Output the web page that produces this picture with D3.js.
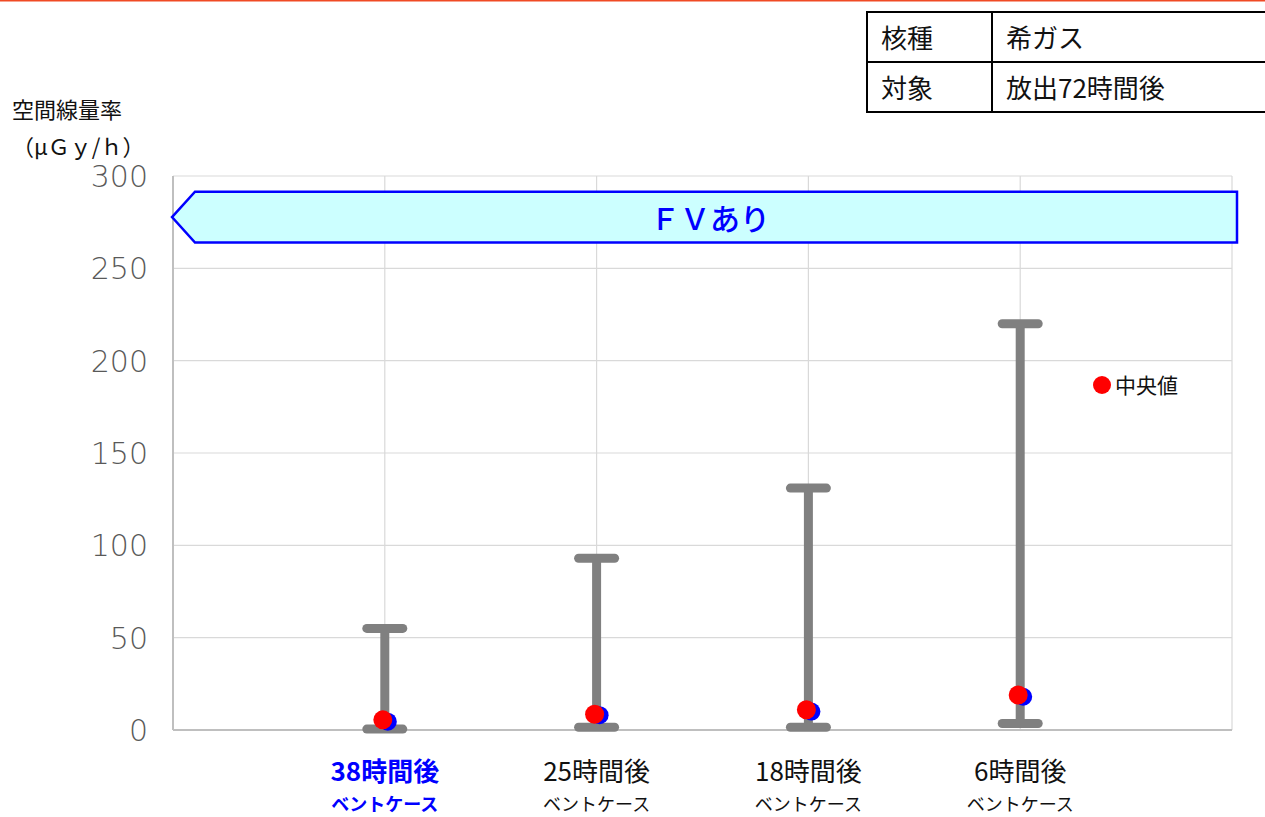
<!DOCTYPE html>
<html>
<head>
<meta charset="utf-8">
<script src="https://cdn.jsdelivr.net/npm/d3@7"></script>
<style>
  body { margin: 0; background: #fff; }
  svg { display: block; font-family: "Noto Sans CJK JP", "DejaVu Sans", sans-serif; }
</style>
</head>
<body>
<div id="chart"></div>
<script>
// categories (x positions 1..4 on a 0..5 axis)
const categories = ["38時間後", "25時間後", "18時間後", "6時間後"];
const subLabels = ["ベントケース", "ベントケース", "ベントケース", "ベントケース"];
const highlight = [true, false, false, false];
// range values (μGy/h)
const maxValues = [55, 93, 131, 220];
const minValues = [0.5, 1.5, 1.5, 3.5];
const medianValues = [5.5, 8.5, 11, 19];
const meanValues = [4.5, 8, 10, 18];
const yTicks = [0, 50, 100, 150, 200, 250, 300];
const tableRows = [["核種", "希ガス"], ["対象", "放出72時間後"]];

const W = 1265, H = 817;
const svg = d3.select("#chart").append("svg").attr("width", W).attr("height", H);

const m = { left: 173, right: 1232, top: 176, bottom: 730 };
const x = d3.scaleLinear().domain([0, 5]).range([m.left, m.right]);
const y = d3.scaleLinear().domain([0, 300]).range([m.bottom, m.top]);

// top rule
svg.append("line").attr("x1", 0).attr("x2", W).attr("y1", 0.5).attr("y2", 0.5)
  .attr("stroke", "#f04a24").attr("stroke-width", 2);

// grid
svg.append("g").selectAll("line").data(yTicks.slice(1)).join("line")
  .attr("x1", m.left).attr("x2", m.right)
  .attr("y1", d => y(d)).attr("y2", d => y(d))
  .attr("stroke", "#d9d9d9").attr("stroke-width", 1.2);
svg.append("g").selectAll("line").data(d3.range(1, 6)).join("line")
  .attr("x1", d => x(d)).attr("x2", d => x(d))
  .attr("y1", m.top).attr("y2", m.bottom)
  .attr("stroke", "#d9d9d9").attr("stroke-width", 1.2);
svg.append("line").attr("x1", m.left).attr("x2", m.left)
  .attr("y1", m.top).attr("y2", m.bottom).attr("stroke", "#bfbfbf").attr("stroke-width", 2);
svg.append("line").attr("x1", m.left).attr("x2", m.right)
  .attr("y1", m.bottom).attr("y2", m.bottom).attr("stroke", "#bfbfbf").attr("stroke-width", 2);

// y tick labels
svg.append("g").selectAll("text").data(yTicks).join("text")
  .attr("x", 148).attr("y", d => y(d) + 11)
  .attr("text-anchor", "end").attr("fill", "#595959")
  .style("font-family", "'DejaVu Sans', sans-serif")
  .style("font-size", "30px").style("font-weight", 200)
  .text(d => d);

// axis title
svg.append("text").attr("x", 12).attr("y", 118).style("font-size", "22px").attr("fill", "#111").text("空間線量率");
svg.append("text").attr("x", 12).attr("y", 155).style("font-size", "22px").attr("fill", "#111").text("（μＧｙ/ｈ）");

// FV banner
const bTop = y(291.5), bBot = y(264);
const banner = [[x(0) - 1, (bTop + bBot) / 2], [x(0) + 22, bTop], [x(5) + 5, bTop], [x(5) + 5, bBot], [x(0) + 22, bBot]];
svg.append("path").attr("d", d3.line()(banner) + "Z")
  .attr("fill", "#ccffff").attr("stroke", "#0000ff").attr("stroke-width", 2.5);
svg.append("text").attr("x", 710).attr("y", 230).attr("text-anchor", "middle")
  .attr("fill", "#0000ff").style("font-size", "30px").style("font-weight", 500).text("ＦＶあり");

// error bars
const data = categories.map((c, i) => ({
  pos: i + 1, max: maxValues[i], min: minValues[i], med: medianValues[i], mean: meanValues[i]
}));
const bars = svg.append("g");
bars.selectAll(".stem").data(data).join("line")
  .attr("x1", d => x(d.pos)).attr("x2", d => x(d.pos))
  .attr("y1", d => y(d.max)).attr("y2", d => y(d.min))
  .attr("stroke", "#808080").attr("stroke-width", 9);
bars.selectAll(".capTop").data(data).join("line")
  .attr("x1", d => x(d.pos) - 18).attr("x2", d => x(d.pos) + 18)
  .attr("y1", d => y(d.max)).attr("y2", d => y(d.max))
  .attr("stroke", "#808080").attr("stroke-width", 9).attr("stroke-linecap", "round");
bars.selectAll(".capBot").data(data).join("line")
  .attr("x1", d => x(d.pos) - 18).attr("x2", d => x(d.pos) + 18)
  .attr("y1", d => y(d.min)).attr("y2", d => y(d.min))
  .attr("stroke", "#808080").attr("stroke-width", 9).attr("stroke-linecap", "round");

// points
svg.append("g").selectAll("circle").data(data).join("circle")
  .attr("cx", d => x(d.pos) + 3).attr("cy", d => y(d.mean))
  .attr("r", 9).attr("fill", "#0000ff");
svg.append("g").selectAll("circle").data(data).join("circle")
  .attr("cx", d => x(d.pos) - 2).attr("cy", d => y(d.med))
  .attr("r", 9.5).attr("fill", "#ff0000");

// legend
svg.append("circle").attr("cx", 1102).attr("cy", 385).attr("r", 9).attr("fill", "#ff0000");
svg.append("text").attr("x", 1115).attr("y", 393).style("font-size", "21px").attr("fill", "#111").text("中央値");

// x labels
const xl = svg.append("g");
xl.selectAll(".cat").data(categories).join("text")
  .attr("x", (d, i) => x(i + 1)).attr("y", 781).attr("text-anchor", "middle")
  .attr("fill", (d, i) => highlight[i] ? "#0000ff" : "#111")
  .style("font-size", "26px").style("font-weight", (d, i) => highlight[i] ? 700 : 400)
  .text(d => d);
xl.selectAll(".sub").data(subLabels).join("text")
  .attr("x", (d, i) => x(i + 1)).attr("y", 811).attr("text-anchor", "middle")
  .attr("fill", (d, i) => highlight[i] ? "#0000ff" : "#111")
  .style("font-size", "18px").style("font-weight", (d, i) => highlight[i] ? 700 : 400)
  .text(d => d);

// info table
const tX = 867, tY = 12, rowH = 50, col1 = 125, tW = 400;
const table = svg.append("g");
table.append("rect").attr("x", tX).attr("y", tY).attr("width", tW).attr("height", rowH * 2)
  .attr("fill", "none").attr("stroke", "#000").attr("stroke-width", 2);
table.append("line").attr("x1", tX).attr("x2", tX + tW).attr("y1", tY + rowH).attr("y2", tY + rowH)
  .attr("stroke", "#000").attr("stroke-width", 2);
table.append("line").attr("x1", tX + col1).attr("x2", tX + col1).attr("y1", tY).attr("y2", tY + rowH * 2)
  .attr("stroke", "#000").attr("stroke-width", 2);
tableRows.forEach((r, i) => {
  table.append("text").attr("x", tX + 14).attr("y", tY + rowH * i + 36)
    .style("font-size", "26px").attr("fill", "#111").text(r[0]);
  table.append("text").attr("x", tX + col1 + 14).attr("y", tY + rowH * i + 36)
    .style("font-size", "26px").attr("fill", "#111").text(r[1]);
});
</script>
</body>
</html>
